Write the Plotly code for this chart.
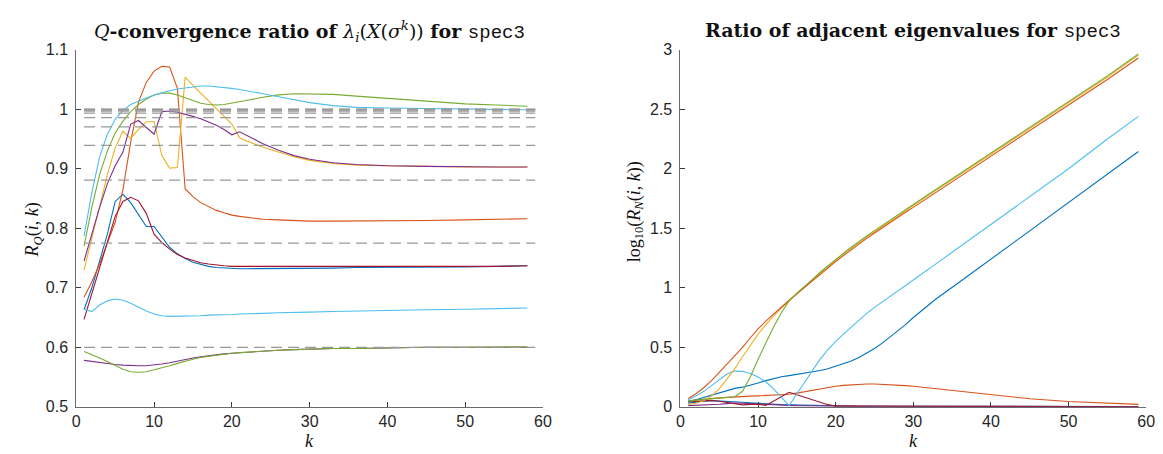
import plotly.graph_objects as go

# ---------------- data: left panel (Q-convergence ratio) ----------------
K_Q = [1, 2, 3, 4, 5, 6, 7, 8, 9, 10, 11, 12, 13, 14, 15, 16, 17, 18, 19, 20,
       21, 22, 24, 26, 28, 30, 33, 36, 40, 45, 50, 54, 58]

q_blue = [0.663, 0.700, 0.745, 0.790, 0.845, 0.857, 0.843, 0.823, 0.803, 0.803, 0.785, 0.768, 0.757,
          0.749, 0.743, 0.739, 0.736, 0.734, 0.733, 0.732, 0.732, 0.732, 0.732, 0.732, 0.733, 0.733,
          0.733, 0.734, 0.734, 0.735, 0.735, 0.736, 0.737]
q_orange = [0.684, 0.710, 0.740, 0.775, 0.810, 0.865, 0.945, 1.012, 1.045, 1.064, 1.072, 1.071, 1.035,
            0.866, 0.853, 0.843, 0.836, 0.830, 0.826, 0.822, 0.820, 0.818, 0.815, 0.814, 0.813, 0.812,
            0.812, 0.812, 0.812, 0.813, 0.814, 0.815, 0.816]
q_yellow = [0.730, 0.785, 0.840, 0.890, 0.935, 0.963, 0.951, 0.966, 0.979, 0.979, 0.922, 0.901, 0.902,
            1.054, 1.040, 1.027, 1.014, 1.001, 0.988, 0.975, 0.952, 0.946, 0.936, 0.928, 0.920, 0.914,
            0.909, 0.906, 0.905, 0.904, 0.903, 0.903, 0.903]
q_purple = [0.745, 0.790, 0.835, 0.875, 0.905, 0.928, 0.975, 0.981, 0.970, 0.958, 0.996, 0.997, 0.995,
            0.992, 0.988, 0.984, 0.979, 0.973, 0.966, 0.957, 0.962, 0.955, 0.942, 0.931, 0.922, 0.916,
            0.910, 0.907, 0.905, 0.904, 0.903, 0.903, 0.903]
q_green = [0.770, 0.835, 0.890, 0.930, 0.960, 0.980, 0.996, 1.008, 1.017, 1.024, 1.027, 1.027, 1.024,
           1.019, 1.014, 1.010, 1.008, 1.007, 1.008, 1.010, 1.012, 1.015, 1.020, 1.024, 1.026, 1.026,
           1.025, 1.022, 1.018, 1.013, 1.009, 1.007, 1.005]
q_lightblue = [0.787, 0.860, 0.920, 0.958, 0.983, 0.998, 1.008, 1.014, 1.019, 1.024, 1.028, 1.031, 1.034,
               1.036, 1.038, 1.039, 1.039, 1.038, 1.037, 1.035, 1.033, 1.031, 1.026, 1.021, 1.016, 1.011,
               1.006, 1.003, 1.002, 1.001, 1.000, 1.000, 0.999]
q_red = [0.647, 0.690, 0.735, 0.780, 0.820, 0.845, 0.852, 0.846, 0.825, 0.790, 0.776, 0.765, 0.756,
         0.750, 0.746, 0.742, 0.740, 0.738, 0.737, 0.736, 0.736, 0.735, 0.735, 0.735, 0.735, 0.735,
         0.735, 0.735, 0.735, 0.736, 0.736, 0.736, 0.737]
q_purple_low = [0.578, 0.576, 0.574, 0.572, 0.571, 0.570, 0.569, 0.569, 0.569, 0.570, 0.572, 0.574, 0.577,
                0.579, 0.582, 0.584, 0.586, 0.588, 0.589, 0.590, 0.591, 0.592, 0.594, 0.595, 0.596, 0.597,
                0.598, 0.598, 0.599, 0.600, 0.600, 0.600, 0.600]
q_green_low = [0.593, 0.588, 0.582, 0.576, 0.569, 0.563, 0.559, 0.558, 0.559, 0.562, 0.565, 0.569, 0.573,
               0.577, 0.580, 0.583, 0.585, 0.587, 0.589, 0.590, 0.591, 0.592, 0.594, 0.595, 0.596, 0.597,
               0.598, 0.598, 0.599, 0.600, 0.600, 0.600, 0.601]
q_lightblue_low = [0.664, 0.660, 0.671, 0.678, 0.681, 0.679, 0.674, 0.667, 0.661, 0.656, 0.653, 0.652, 0.652,
                   0.652, 0.653, 0.653, 0.654, 0.654, 0.655, 0.655, 0.656, 0.656, 0.657, 0.658, 0.659, 0.659,
                   0.660, 0.661, 0.662, 0.663, 0.664, 0.665, 0.666]

# limiting ratios (dashed reference lines)
Q_LIMITS = [0.600, 0.775, 0.881, 0.9393, 0.9703, 0.9857, 0.9933, 0.9968, 0.9985, 0.9993, 0.99965, 1.000]
LIMIT_K = [1, 59]

# ---------------- data: right panel (ratio of adjacent eigenvalues) ----------------
K_N = [1, 2, 3, 4, 5, 6, 7, 8, 9, 10, 11, 12, 13, 14, 15, 16, 17, 18, 19, 20,
       21, 22, 23, 24, 25, 26, 27, 28, 29, 30, 33, 36, 40, 45, 50, 55, 59]

n_blue = [0.040, 0.060, 0.080, 0.100, 0.120, 0.140, 0.155, 0.165, 0.180, 0.200, 0.220, 0.238, 0.252,
          0.262, 0.272, 0.282, 0.293, 0.305, 0.320, 0.340, 0.360, 0.385, 0.415, 0.450, 0.490, 0.535,
          0.585, 0.635, 0.690, 0.750, 0.910, 1.050, 1.240, 1.475, 1.710, 1.950, 2.145]
n_orange = [0.070, 0.110, 0.160, 0.220, 0.290, 0.360, 0.430, 0.500, 0.580, 0.655, 0.720, 0.780, 0.840,
            0.895, 0.950, 1.005, 1.060, 1.115, 1.170, 1.220, 1.270, 1.320, 1.370, 1.415, 1.460, 1.505,
            1.550, 1.590, 1.635, 1.675, 1.805, 1.935, 2.105, 2.320, 2.535, 2.750, 2.930]
n_yellow = [0.020, 0.030, 0.050, 0.090, 0.150, 0.230, 0.320, 0.420, 0.520, 0.610, 0.690, 0.760, 0.830,
            0.890, 0.950, 1.005, 1.065, 1.120, 1.175, 1.230, 1.280, 1.330, 1.380, 1.425, 1.470, 1.515,
            1.560, 1.605, 1.650, 1.690, 1.820, 1.950, 2.125, 2.340, 2.555, 2.770, 2.955]
n_purple = [0.010, 0.012, 0.015, 0.018, 0.022, 0.027, 0.032, 0.030, 0.026, 0.022, 0.019, 0.016, 0.014,
            0.012, 0.010, 0.009, 0.008, 0.007, 0.006, 0.005, 0.005, 0.004, 0.004, 0.004, 0.004, 0.003,
            0.003, 0.003, 0.003, 0.003, 0.003, 0.002, 0.002, 0.002, 0.002, 0.002, 0.002]
n_green = [0.050, 0.055, 0.060, 0.065, 0.070, 0.075, 0.085, 0.130, 0.250, 0.400, 0.540, 0.670, 0.790,
           0.890, 0.955, 1.010, 1.070, 1.130, 1.185, 1.240, 1.290, 1.340, 1.390, 1.435, 1.480, 1.525,
           1.570, 1.615, 1.660, 1.700, 1.830, 1.960, 2.135, 2.350, 2.565, 2.780, 2.965]
n_lightblue = [0.060, 0.090, 0.130, 0.180, 0.230, 0.275, 0.300, 0.298, 0.280, 0.250, 0.210, 0.150, 0.080,
               0.010, 0.110, 0.210, 0.310, 0.400, 0.480, 0.550, 0.610, 0.670, 0.730, 0.785, 0.835, 0.880,
               0.930, 0.975, 1.020, 1.065, 1.205, 1.345, 1.535, 1.765, 2.000, 2.250, 2.440]
n_red = [0.040, 0.046, 0.052, 0.054, 0.047, 0.035, 0.022, 0.016, 0.020, 0.022, 0.012, 0.045, 0.085,
         0.122, 0.100, 0.080, 0.058, 0.037, 0.018, 0.006, 0.004, 0.005, 0.006, 0.007, 0.007, 0.007,
         0.006, 0.006, 0.005, 0.005, 0.004, 0.003, 0.003, 0.002, 0.002, 0.001, 0.001]
n_blue_low = [0.030, 0.040, 0.048, 0.052, 0.050, 0.047, 0.043, 0.038, 0.033, 0.028, 0.024, 0.021, 0.018,
              0.016, 0.014, 0.012, 0.010, 0.009, 0.008, 0.007, 0.006, 0.006, 0.005, 0.005, 0.004, 0.004,
              0.004, 0.003, 0.003, 0.003, 0.003, 0.002, 0.002, 0.002, 0.002, 0.002, 0.002]
n_orange_low = [0.050, 0.058, 0.065, 0.070, 0.075, 0.080, 0.085, 0.088, 0.090, 0.092, 0.094, 0.096, 0.100,
                0.105, 0.115, 0.127, 0.140, 0.152, 0.163, 0.172, 0.180, 0.186, 0.190, 0.192, 0.192, 0.190,
                0.187, 0.183, 0.178, 0.172, 0.152, 0.130, 0.100, 0.068, 0.045, 0.030, 0.020]

# tick labels
X_TICKS = [0, 10, 20, 30, 40, 50, 60]
Q_TICKS = [0.5, 0.6, 0.7, 0.8, 0.9, 1.0, 1.1]
Q_TICKTEXT = ["0.5", "0.6", "0.7", "0.8", "0.9", "1", "1.1"]
N_TICKS = [0, 0.5, 1, 1.5, 2, 2.5, 3]
N_TICKTEXT = ["0", "0.5", "1", "1.5", "2", "2.5", "3"]

# MATLAB default colour order
C_BLUE, C_ORANGE, C_YELLOW, C_PURPLE = "#0072BD", "#D95319", "#EDB120", "#7E2F8E"
C_GREEN, C_LBLUE, C_RED = "#77AC30", "#4DBEEE", "#A2142F"

left_series = [
    (q_blue, C_BLUE), (q_orange, C_ORANGE), (q_yellow, C_YELLOW), (q_purple, C_PURPLE),
    (q_green, C_GREEN), (q_lightblue, C_LBLUE), (q_red, C_RED),
    (q_purple_low, C_PURPLE), (q_green_low, C_GREEN), (q_lightblue_low, C_LBLUE),
]
right_series = [
    (n_orange_low, C_ORANGE), (n_blue_low, C_BLUE), (n_purple, C_PURPLE), (n_red, C_RED),
    (n_blue, C_BLUE), (n_lightblue, C_LBLUE), (n_yellow, C_YELLOW), (n_orange, C_ORANGE),
    (n_green, C_GREEN),
]

fig = go.Figure()
for ys, col in left_series:
    fig.add_trace(go.Scatter(x=K_Q, y=ys, mode="lines", line=dict(color=col, width=1.1),
                             xaxis="x", yaxis="y", showlegend=False, hoverinfo="skip"))
for lvl in Q_LIMITS:
    fig.add_trace(go.Scatter(x=LIMIT_K, y=[lvl, lvl], mode="lines",
                             line=dict(color="#999999", width=1.3, dash="11px,6px"),
                             xaxis="x", yaxis="y", showlegend=False, hoverinfo="skip"))
for ys, col in right_series:
    fig.add_trace(go.Scatter(x=K_N, y=ys, mode="lines", line=dict(color=col, width=1.1),
                             xaxis="x2", yaxis="y2", showlegend=False, hoverinfo="skip"))

W, H = 1163, 454
LX0, LX1 = 65, 537
RX0, RX1 = 676, 1147
YT, YB = 35, 406

axis_common = dict(showgrid=False, zeroline=False, showline=True, linecolor="#6b6b6b", linewidth=1,
                   ticks="inside", ticklen=5, tickwidth=1, tickcolor="#3a3a3a",
                   tickfont=dict(family="Liberation Sans, Arial, sans-serif", size=16, color="#262626"),
                   mirror=False)
x_common = dict(axis_common, ticklabelstandoff=0)
y_common = dict(axis_common, ticklabelstandoff=4)

fig.update_layout(
    width=W, height=H, margin=dict(l=0, r=0, t=0, b=0),
    paper_bgcolor="white", plot_bgcolor="white",
    xaxis=dict(domain=[LX0 / W, LX1 / W], range=[0, 60], tickvals=X_TICKS, anchor="y", **x_common),
    yaxis=dict(domain=[1 - YB / H, 1 - YT / H], range=[0.5, 1.1], tickvals=Q_TICKS, ticktext=Q_TICKTEXT,
               anchor="x", **y_common),
    xaxis2=dict(domain=[RX0 / W, RX1 / W], range=[0, 60], tickvals=X_TICKS, anchor="y2", **x_common),
    yaxis2=dict(domain=[1 - YB / H, 1 - YT / H], range=[0, 3], tickvals=N_TICKS, ticktext=N_TICKTEXT,
                anchor="x2", **y_common),
)

SERIF = "DejaVu Serif, Liberation Serif, serif"
LSERIF = "Liberation Serif, DejaVu Serif, serif"
MONO = "Liberation Mono, DejaVu Sans Mono, monospace"
title_font = dict(family=SERIF, size=19, color="#111111")
label_font = dict(family=LSERIF, size=18, color="#111111")

annotations = [
    dict(text="<i>Q</i><b>-convergence ratio of </b><i>λ<sub>i</sub></i>(<i>X</i>(<i>σ<sup>k</sup></i>))"
              "<b> for </b><span style='font-family:" + MONO + "'>spec3</span>",
         x=(LX0 + LX1) / 2 / W, y=1 - 16 / H, xref="paper", yref="paper",
         xanchor="center", yanchor="middle", showarrow=False, font=title_font),
    dict(text="<b>Ratio of adjacent eigenvalues for </b><span style='font-family:" + MONO + "'>spec3</span>",
         x=(RX0 + RX1) / 2 / W, y=1 - 16 / H, xref="paper", yref="paper",
         xanchor="center", yanchor="middle", showarrow=False, font=title_font),
    dict(text="<i>k</i>", x=(LX0 + LX1) / 2 / W, y=1 - 442 / H, xref="paper", yref="paper",
         xanchor="center", yanchor="middle", showarrow=False, font=label_font),
    dict(text="<i>k</i>", x=(RX0 + RX1) / 2 / W, y=1 - 442 / H, xref="paper", yref="paper",
         xanchor="center", yanchor="middle", showarrow=False, font=label_font),
    dict(text="<i>R<sub>Q</sub></i>(<i>i</i>, <i>k</i>)", x=22 / W, y=1 - 222 / H,
         xref="paper", yref="paper", xanchor="center", yanchor="middle", showarrow=False,
         textangle=-90, font=label_font),
    dict(text="log<sub>10</sub>(<i>R<sub>N</sub></i>(<i>i</i>, <i>k</i>))", x=630 / W, y=1 - 203 / H,
         xref="paper", yref="paper", xanchor="center", yanchor="middle", showarrow=False,
         textangle=-90, font=label_font),
]
fig.update_layout(annotations=annotations)

fig.write_html("out.html")
